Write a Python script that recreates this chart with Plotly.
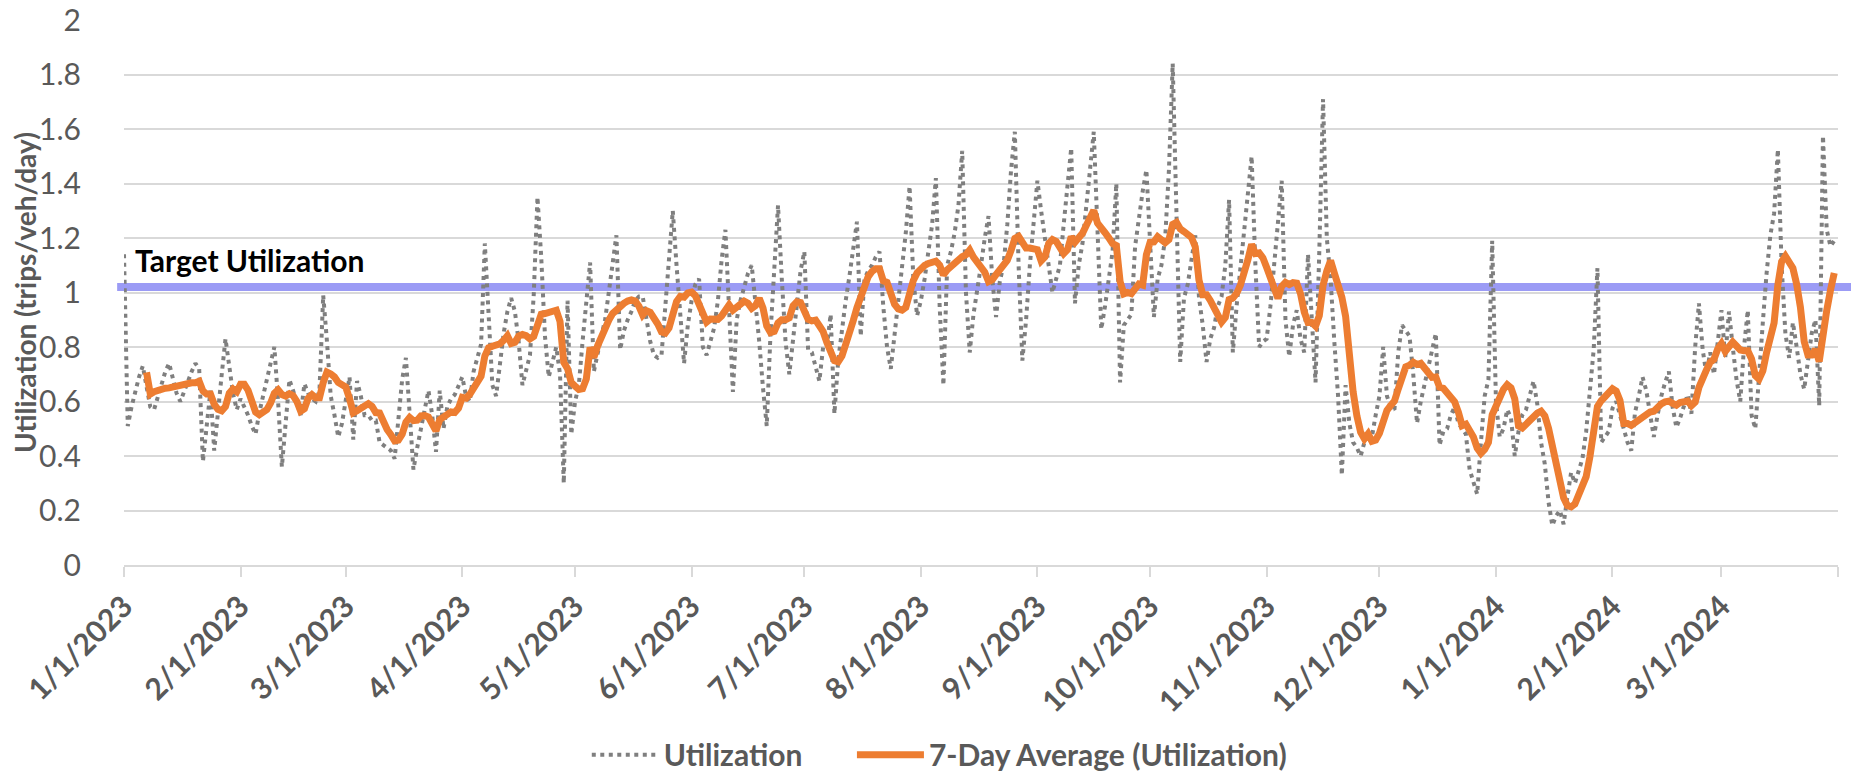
import pandas as pd
import plotly.graph_objects as go

# ---------------- data ----------------
START_DATE = "2023-01-01"   # first daily observation

# Daily utilization (trips/veh/day), 1/1/2023 .. 3/31/2024, one row per week
utilization = [
    1.14, 0.51, 0.58, 0.64, 0.69, 0.73, 0.66,
    0.58, 0.57, 0.62, 0.67, 0.71, 0.74, 0.68,
    0.63, 0.60, 0.64, 0.68, 0.71, 0.74, 0.72,
    0.38, 0.52, 0.64, 0.42, 0.58, 0.70, 0.83,
    0.72, 0.63, 0.57, 0.61, 0.58, 0.55, 0.51,
    0.48, 0.56, 0.62, 0.69, 0.75, 0.80, 0.60,
    0.36, 0.52, 0.68, 0.64, 0.60, 0.55, 0.665,
    0.63, 0.61, 0.60, 0.64, 0.99, 0.82, 0.62,
    0.55, 0.47, 0.52, 0.60, 0.69, 0.46, 0.675,
    0.62, 0.55, 0.55, 0.53, 0.53, 0.45, 0.44,
    0.43, 0.42, 0.39, 0.55, 0.68, 0.76, 0.56,
    0.35, 0.43, 0.50, 0.56, 0.64, 0.55, 0.415,
    0.64, 0.50, 0.58, 0.61, 0.625, 0.66, 0.69,
    0.62, 0.60, 0.71, 0.76, 0.81, 1.18, 0.90,
    0.66, 0.62, 0.75, 0.85, 0.93, 0.98, 0.93,
    0.82, 0.66, 0.72, 0.77, 0.99, 1.35, 1.13,
    0.84, 0.69, 0.745, 0.80, 0.70, 0.30, 0.97,
    0.48, 0.60, 0.66, 0.82, 0.95, 1.11, 0.71,
    0.78, 0.84, 0.90, 1.00, 1.12, 1.21, 0.79,
    0.86, 0.90, 0.93, 0.97, 0.985, 0.985, 0.90,
    0.82, 0.77, 0.76, 0.77, 0.95, 1.12, 1.30,
    1.10, 0.90, 0.74, 0.88, 0.97, 1.03, 1.05,
    0.80, 0.77, 0.82, 0.87, 0.97, 1.12, 1.23,
    0.90, 0.635, 0.90, 0.97, 1.02, 1.07, 1.10,
    0.97, 0.82, 0.65, 0.51, 0.85, 1.10, 1.32,
    1.05, 0.82, 0.70, 0.82, 0.95, 1.08, 1.15,
    0.79, 0.78, 0.72, 0.675, 0.80, 0.80, 0.92,
    0.555, 0.75, 0.87, 0.97, 1.06, 1.15, 1.26,
    0.84, 1.05, 1.08, 1.10, 1.13, 1.15, 0.95,
    0.80, 0.72, 0.85, 0.98, 1.10, 1.22, 1.39,
    1.05, 0.915, 0.97, 1.05, 1.15, 1.25, 1.42,
    0.95, 0.66, 1.10, 1.15, 1.22, 1.32, 1.52,
    1.00, 0.78, 0.92, 1.00, 1.10, 1.20, 1.28,
    1.05, 0.91, 1.04, 1.10, 1.25, 1.45, 1.59,
    1.10, 0.75, 0.90, 1.10, 1.25, 1.41, 1.30,
    1.20, 1.10, 1.00, 1.05, 1.10, 1.25, 1.40,
    1.53, 0.96, 1.10, 1.18, 1.30, 1.45, 1.59,
    1.20, 0.865, 0.95, 1.05, 1.15, 1.40, 0.67,
    0.88, 0.90, 0.92, 1.17, 1.28, 1.37, 1.45,
    1.20, 0.91, 1.05, 1.10, 1.20, 1.45, 1.84,
    1.25, 0.745, 0.98, 1.03, 1.12, 1.21, 0.98,
    0.88, 0.745, 0.83, 0.87, 0.95, 0.985, 1.10,
    1.34, 0.78, 0.95, 1.08, 1.22, 1.37, 1.50,
    1.10, 0.80, 0.82, 0.83, 0.95, 1.10, 1.25,
    1.41, 0.90, 0.765, 0.88, 0.935, 0.83, 0.78,
    1.14, 0.90, 0.67, 1.15, 1.71, 1.20, 1.05,
    0.82, 0.62, 0.33, 0.66, 0.52, 0.45, 0.43,
    0.40, 0.45, 0.46, 0.47, 0.55, 0.62, 0.80,
    0.62, 0.58, 0.57, 0.78, 0.88, 0.86, 0.84,
    0.70, 0.52, 0.60, 0.66, 0.72, 0.78, 0.85,
    0.44, 0.49, 0.50, 0.55, 0.58, 0.52, 0.50,
    0.48, 0.35, 0.31, 0.26, 0.45, 0.62, 0.68,
    1.19, 0.60, 0.47, 0.50, 0.57, 0.54, 0.40,
    0.49, 0.55, 0.57, 0.625, 0.675, 0.59, 0.45,
    0.37, 0.23, 0.145, 0.18, 0.20, 0.15, 0.25,
    0.34, 0.30, 0.35, 0.39, 0.49, 0.66, 0.79,
    1.09, 0.45, 0.47, 0.49, 0.575, 0.60, 0.55,
    0.50, 0.45, 0.42, 0.56, 0.62, 0.69, 0.64,
    0.55, 0.47, 0.55, 0.62, 0.67, 0.71, 0.58,
    0.505, 0.54, 0.58, 0.625, 0.555, 0.80, 0.96,
    0.79, 0.70, 0.78, 0.70, 0.82, 0.935, 0.76,
    0.93, 0.80, 0.68, 0.60, 0.80, 0.935, 0.55,
    0.50, 0.71, 0.89, 1.07, 1.21, 1.29, 1.525,
    1.10, 0.85, 0.76, 0.89, 0.80, 0.70, 0.645,
    0.75, 0.85, 0.90, 0.585, 1.575, 1.23, 1.17,
    1.19,
]

AVG_WINDOW = 7                     # Excel moving-average trendline period
TARGET = 1.02                      # target utilization line
TARGET_LABEL = "Target Utilization"

SERIES_NAME = "Utilization"
AVG_NAME = "7-Day Average (Utilization)"
Y_TITLE = "Utilization (trips/veh/day)"

Y_TICKS = [0, 0.2, 0.4, 0.6, 0.8, 1.0, 1.2, 1.4, 1.6, 1.8, 2.0]
Y_TICK_LABELS = ["0", "0.2", "0.4", "0.6", "0.8", "1", "1.2", "1.4", "1.6", "1.8", "2"]

X_TICK_DATES = ["2023-01-01", "2023-02-01", "2023-03-01", "2023-04-01", "2023-05-01",
                "2023-06-01", "2023-07-01", "2023-08-01", "2023-09-01", "2023-10-01",
                "2023-11-01", "2023-12-01", "2024-01-01", "2024-02-01", "2024-03-01",
                "2024-04-01"]
X_TICK_LABELS = ["1/1/2023", "2/1/2023", "3/1/2023", "4/1/2023", "5/1/2023",
                 "6/1/2023", "7/1/2023", "8/1/2023", "9/1/2023", "10/1/2023",
                 "11/1/2023", "12/1/2023", "1/1/2024", "2/1/2024", "3/1/2024", ""]
X_RANGE = ["2023-01-01", "2024-04-01"]

# ---------------- build ----------------
dates = pd.date_range(START_DATE, periods=len(utilization), freq="D")
# Moving-average trendline of the daily series (what Excel draws for "7 per. Mov. Avg.")
avg7 = pd.Series(utilization).rolling(AVG_WINDOW).mean()

GREY_TXT = "#595959"
FONT = "Lato"
LEGEND_FONT = dict(family=FONT, size=30, color=GREY_TXT, weight="bold")

fig = go.Figure()
fig.add_trace(go.Scatter(
    x=dates, y=utilization, mode="lines", name=SERIES_NAME, legend="legend",
    line=dict(color="#7F7F7F", width=4, dash="4px,4.5px"),
))
fig.add_trace(go.Scatter(
    x=dates, y=avg7, mode="lines", name=AVG_NAME, legend="legend2",
    line=dict(color="#ED7D31", width=7),
))

y_max = Y_TICKS[-1]
fig.add_shape(type="line", xref="paper", yref="paper",
              x0=-0.004, x1=1.0076, y0=TARGET / y_max, y1=TARGET / y_max,
              line=dict(color="#9B9BF5", width=8), layer="below")

fig.add_annotation(text=TARGET_LABEL, xref="paper", yref="y", x=0.005, y=1.118,
                   xanchor="left", yanchor="middle", showarrow=False,
                   font=dict(family=FONT, size=30, color="#000000", weight="bold"))

fig.add_annotation(text=Y_TITLE, xref="paper", yref="paper", x=-0.058, y=0.5,
                   xanchor="center", yanchor="middle", textangle=-90, showarrow=False,
                   font=dict(family=FONT, size=28, color=GREY_TXT, weight="bold"))

fig.update_layout(
    width=1851, height=774,
    margin=dict(l=124, r=13, t=20, b=209, autoexpand=False),
    paper_bgcolor="white", plot_bgcolor="white",
    font=dict(family=FONT, color=GREY_TXT),
    showlegend=True,
    legend=dict(orientation="h", x=0.270, xanchor="left", y=-0.348, yanchor="middle",
                font=LEGEND_FONT, bgcolor="rgba(0,0,0,0)", itemwidth=67),
    legend2=dict(orientation="h", x=0.4247, xanchor="left", y=-0.348, yanchor="middle",
                 font=LEGEND_FONT, bgcolor="rgba(0,0,0,0)", itemwidth=67),
    xaxis=dict(
        type="date", range=X_RANGE,
        tickmode="array", tickvals=X_TICK_DATES, ticktext=X_TICK_LABELS,
        tickangle=-45, ticks="outside", ticklen=10, tickcolor="#D9D9D9", tickwidth=1.5,
        tickfont=dict(family=FONT, size=30, color=GREY_TXT, weight="bold"),
        showgrid=False, showline=True, linecolor="#D9D9D9", linewidth=1.5,
        zeroline=False,
    ),
    yaxis=dict(
        range=[0, y_max], tickmode="array", tickvals=Y_TICKS, ticktext=Y_TICK_LABELS,
        tickfont=dict(family=FONT, size=30, color=GREY_TXT),
        showgrid=True, gridcolor="#D9D9D9", gridwidth=1.5,
        zeroline=False, showline=False, ticks="", ticklabelstandoff=42,
        ticklabeloverflow="allow",
    ),
)

# remove the browser's default 8px page margin so the figure fills the window exactly
fig.write_html("out.html", config={"displayModeBar": False},
               post_script="document.body.style.margin='0';")
